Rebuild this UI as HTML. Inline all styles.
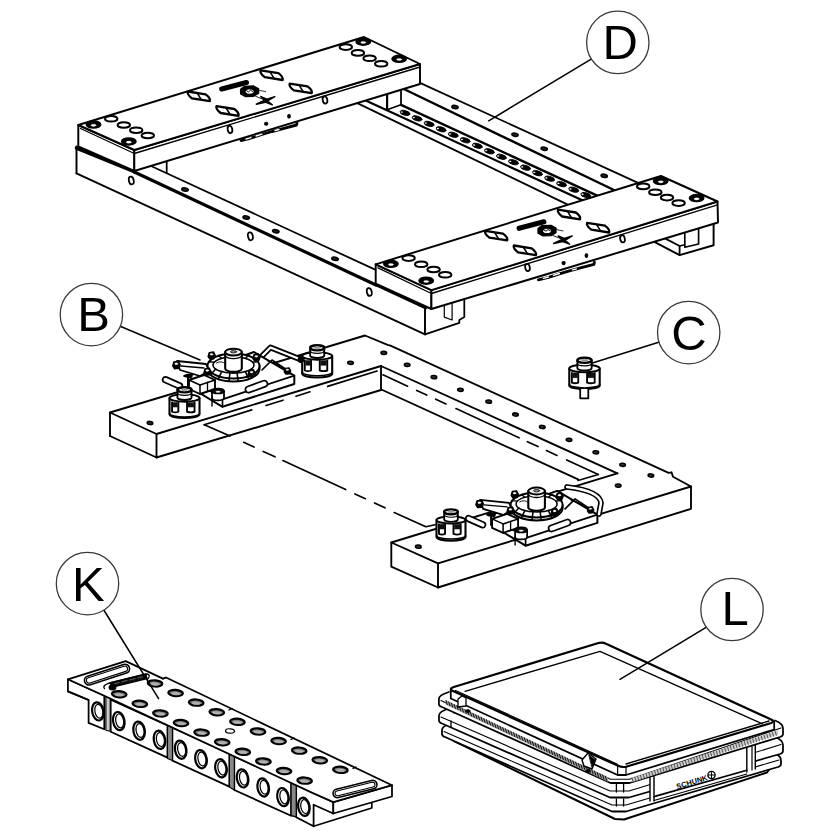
<!DOCTYPE html>
<html><head><meta charset="utf-8"><style>
html,body{margin:0;padding:0;background:#fff;}
svg{display:block;}
</style></head><body>
<svg width="840" height="840" viewBox="0 0 840 840" stroke="#000" stroke-linecap="round" stroke-linejoin="round" fill="none">
<rect width="840" height="840" fill="#fff" stroke="none"/>
<line x1="420.0" y1="82.9" x2="638.6" y2="183.1" stroke-width="1.76" />
<line x1="403.8" y1="89.0" x2="615.0" y2="190.5" stroke-width="2.42" />
<line x1="401.0" y1="104.8" x2="597.7" y2="195.9" stroke-width="2.42" />
<line x1="365.7" y1="100.5" x2="582.8" y2="200.4" stroke-width="2.2" />
<line x1="387.1" y1="109.8" x2="401.0" y2="104.8" stroke-width="1.65" />
<line x1="357.3" y1="103.1" x2="568.2" y2="204.9" stroke-width="1.76" />
<ellipse cx="405.0" cy="112.9" rx="5.0" ry="2.3" transform="rotate(14 405.0 112.9)" stroke-width="0.9" fill="#000" />
<ellipse cx="401.7" cy="112.1" rx="0.9" ry="0.7" transform="rotate(0 401.7 112.1)" stroke-width="0.2" fill="#fff" stroke="#fff"/>
<ellipse cx="417.1" cy="118.4" rx="5.0" ry="2.3" transform="rotate(14 417.1 118.4)" stroke-width="0.9" fill="#000" />
<ellipse cx="413.8" cy="117.6" rx="0.9" ry="0.7" transform="rotate(0 413.8 117.6)" stroke-width="0.2" fill="#fff" stroke="#fff"/>
<ellipse cx="429.1" cy="123.9" rx="5.0" ry="2.3" transform="rotate(14 429.1 123.9)" stroke-width="0.9" fill="#000" />
<ellipse cx="425.8" cy="123.1" rx="0.9" ry="0.7" transform="rotate(0 425.8 123.1)" stroke-width="0.2" fill="#fff" stroke="#fff"/>
<ellipse cx="441.1" cy="129.3" rx="5.0" ry="2.3" transform="rotate(14 441.1 129.3)" stroke-width="0.9" fill="#000" />
<ellipse cx="437.8" cy="128.5" rx="0.9" ry="0.7" transform="rotate(0 437.8 128.5)" stroke-width="0.2" fill="#fff" stroke="#fff"/>
<ellipse cx="453.2" cy="134.8" rx="5.0" ry="2.3" transform="rotate(14 453.2 134.8)" stroke-width="0.9" fill="#000" />
<ellipse cx="449.9" cy="134.0" rx="0.9" ry="0.7" transform="rotate(0 449.9 134.0)" stroke-width="0.2" fill="#fff" stroke="#fff"/>
<ellipse cx="465.2" cy="140.3" rx="5.0" ry="2.3" transform="rotate(14 465.2 140.3)" stroke-width="0.9" fill="#000" />
<ellipse cx="461.9" cy="139.5" rx="0.9" ry="0.7" transform="rotate(0 461.9 139.5)" stroke-width="0.2" fill="#fff" stroke="#fff"/>
<ellipse cx="477.3" cy="145.8" rx="5.0" ry="2.3" transform="rotate(14 477.3 145.8)" stroke-width="0.9" fill="#000" />
<ellipse cx="474.0" cy="145.0" rx="0.9" ry="0.7" transform="rotate(0 474.0 145.0)" stroke-width="0.2" fill="#fff" stroke="#fff"/>
<ellipse cx="489.4" cy="151.3" rx="5.0" ry="2.3" transform="rotate(14 489.4 151.3)" stroke-width="0.9" fill="#000" />
<ellipse cx="486.1" cy="150.5" rx="0.9" ry="0.7" transform="rotate(0 486.1 150.5)" stroke-width="0.2" fill="#fff" stroke="#fff"/>
<ellipse cx="501.4" cy="156.8" rx="5.0" ry="2.3" transform="rotate(14 501.4 156.8)" stroke-width="0.9" fill="#000" />
<ellipse cx="498.1" cy="156.0" rx="0.9" ry="0.7" transform="rotate(0 498.1 156.0)" stroke-width="0.2" fill="#fff" stroke="#fff"/>
<ellipse cx="513.5" cy="162.2" rx="5.0" ry="2.3" transform="rotate(14 513.5 162.2)" stroke-width="0.9" fill="#000" />
<ellipse cx="510.2" cy="161.4" rx="0.9" ry="0.7" transform="rotate(0 510.2 161.4)" stroke-width="0.2" fill="#fff" stroke="#fff"/>
<ellipse cx="525.5" cy="167.7" rx="5.0" ry="2.3" transform="rotate(14 525.5 167.7)" stroke-width="0.9" fill="#000" />
<ellipse cx="522.2" cy="166.9" rx="0.9" ry="0.7" transform="rotate(0 522.2 166.9)" stroke-width="0.2" fill="#fff" stroke="#fff"/>
<ellipse cx="537.5" cy="173.2" rx="5.0" ry="2.3" transform="rotate(14 537.5 173.2)" stroke-width="0.9" fill="#000" />
<ellipse cx="534.2" cy="172.4" rx="0.9" ry="0.7" transform="rotate(0 534.2 172.4)" stroke-width="0.2" fill="#fff" stroke="#fff"/>
<ellipse cx="549.6" cy="178.7" rx="5.0" ry="2.3" transform="rotate(14 549.6 178.7)" stroke-width="0.9" fill="#000" />
<ellipse cx="546.3" cy="177.9" rx="0.9" ry="0.7" transform="rotate(0 546.3 177.9)" stroke-width="0.2" fill="#fff" stroke="#fff"/>
<ellipse cx="561.6" cy="184.2" rx="5.0" ry="2.3" transform="rotate(14 561.6 184.2)" stroke-width="0.9" fill="#000" />
<ellipse cx="558.4" cy="183.4" rx="0.9" ry="0.7" transform="rotate(0 558.4 183.4)" stroke-width="0.2" fill="#fff" stroke="#fff"/>
<ellipse cx="573.7" cy="189.7" rx="5.0" ry="2.3" transform="rotate(14 573.7 189.7)" stroke-width="0.9" fill="#000" />
<ellipse cx="570.4" cy="188.9" rx="0.9" ry="0.7" transform="rotate(0 570.4 188.9)" stroke-width="0.2" fill="#fff" stroke="#fff"/>
<ellipse cx="585.8" cy="195.1" rx="5.0" ry="2.3" transform="rotate(14 585.8 195.1)" stroke-width="0.9" fill="#000" />
<ellipse cx="582.5" cy="194.3" rx="0.9" ry="0.7" transform="rotate(0 582.5 194.3)" stroke-width="0.2" fill="#fff" stroke="#fff"/>
<ellipse cx="455.0" cy="107.0" rx="3.2" ry="1.6" transform="rotate(12 455.0 107.0)" stroke-width="1.54" fill="#222" />
<ellipse cx="515.0" cy="134.7" rx="3.2" ry="1.6" transform="rotate(12 515.0 134.7)" stroke-width="1.54" fill="#222" />
<ellipse cx="544.2" cy="148.7" rx="3.2" ry="1.6" transform="rotate(12 544.2 148.7)" stroke-width="1.54" fill="#222" />
<ellipse cx="604.2" cy="175.8" rx="3.2" ry="1.6" transform="rotate(12 604.2 175.8)" stroke-width="1.54" fill="#222" />
<line x1="387.1" y1="93.3" x2="387.1" y2="109.8" stroke-width="2.2" />
<line x1="401.0" y1="90.5" x2="401.0" y2="104.8" stroke-width="1.76" />
<line x1="134.3" y1="172.0" x2="376.0" y2="285.0" stroke-width="3.19" />
<line x1="76.5" y1="173.3" x2="425.0" y2="334.3" stroke-width="1.93" />
<line x1="151.0" y1="166.0" x2="375.7" y2="269.9" stroke-width="1.76" />
<line x1="166.7" y1="161.5" x2="166.7" y2="173.0" stroke-width="1.76" />
<line x1="76.5" y1="146.5" x2="76.5" y2="173.3" stroke-width="1.93" />
<line x1="76.5" y1="148.0" x2="134.3" y2="171.5" stroke-width="3.52" />
<line x1="375.7" y1="284.8" x2="425.7" y2="308.0" stroke-width="2.86" />
<line x1="425.0" y1="308.6" x2="425.0" y2="334.3" stroke-width="1.93" />
<polyline points="425.0,334.3 459.3,322.9 459.3,320.0 464.3,317.1 464.3,300.7" stroke-width="1.76" fill="none" />
<polyline points="444.3,301.0 444.3,317.1 452.1,320.0 452.1,303.0" stroke-width="1.21" fill="none" />
<ellipse cx="131.3" cy="180.5" rx="2.4" ry="4.0" transform="rotate(-12 131.3 180.5)" stroke-width="1.76" fill="none" />
<ellipse cx="250.4" cy="236.3" rx="2.4" ry="4.0" transform="rotate(-12 250.4 236.3)" stroke-width="1.76" fill="none" />
<ellipse cx="369.3" cy="292.0" rx="2.4" ry="4.0" transform="rotate(-12 369.3 292.0)" stroke-width="1.76" fill="none" />
<ellipse cx="185.0" cy="189.5" rx="3.3" ry="1.6" transform="rotate(12 185.0 189.5)" stroke-width="1.54" fill="#222" />
<ellipse cx="246.2" cy="217.5" rx="3.3" ry="1.6" transform="rotate(12 246.2 217.5)" stroke-width="1.54" fill="#222" />
<ellipse cx="275.8" cy="231.2" rx="3.3" ry="1.6" transform="rotate(12 275.8 231.2)" stroke-width="1.54" fill="#222" />
<ellipse cx="335.0" cy="258.8" rx="3.3" ry="1.6" transform="rotate(12 335.0 258.8)" stroke-width="1.54" fill="#222" />
<path d="M241,140.5 L251,138 L262,134.5 L272,131.5 L284,128.3 L296.5,125 L297,123" stroke-width="2.86" fill="none" />
<path d="M246,139 l5,-1.3 M256,136 l6,-1.8 M275,130.5 l4,-1" stroke-width="1.32" fill="none" stroke="#fff"/>
<path d="M538.4,279.8 L548.4,277.3 L559.4,273.8 L569.4,270.8 L581.4,267.6 L593.9,264.3 L594.4,262.3" stroke-width="2.86" fill="none" />
<path d="M543.4,278.3 l5,-1.3 M553.4,275.3 l6,-1.8 M572.4,269.8 l4,-1" stroke-width="1.32" fill="none" stroke="#fff"/>
<polygon points="78.3,125.0 134.3,150.0 134.3,171.0 78.3,146.5" stroke-width="1.93" fill="#fff" />
<polygon points="134.3,150.0 420.0,64.0 420.0,84.0 134.3,171.0" stroke-width="1.93" fill="#fff" />
<polygon points="78.3,125.0 364.0,37.0 420.0,64.0 134.3,150.0" stroke-width="1.93" fill="#fff" />
<line x1="80.5" y1="128.5" x2="134.3" y2="153.5" stroke-width="1.32" />
<line x1="134.3" y1="153.5" x2="420.0" y2="67.0" stroke-width="1.32" />
<ellipse cx="230.0" cy="129.5" rx="2.3" ry="3.6" transform="rotate(-12 230.0 129.5)" stroke-width="1.76" fill="none" />
<ellipse cx="325.0" cy="100.0" rx="2.3" ry="3.6" transform="rotate(-12 325.0 100.0)" stroke-width="1.76" fill="none" />
<ellipse cx="266.2" cy="123.8" rx="1.6" ry="1.5" transform="rotate(0 266.2 123.8)" stroke-width="1.1" fill="#000" />
<ellipse cx="289.0" cy="116.3" rx="1.3" ry="1.8" transform="rotate(0 289.0 116.3)" stroke-width="1.1" fill="#000" />
<polyline points="653.4,241.4 679.6,255.1 713.6,245.3 713.6,224.3" stroke-width="1.93" fill="none" />
<polyline points="653.4,241.4 664.5,238.1 679.6,246.0 679.6,255.1" stroke-width="1.76" fill="none" />
<polyline points="679.6,246.0 684.8,244.7" stroke-width="1.54" fill="none" />
<polyline points="684.8,232.9 684.8,247.3 698.6,244.0 698.6,229.6" stroke-width="1.65" fill="none" />
<polygon points="375.7,264.3 431.4,290.2 431.4,309.0 375.7,283.6" stroke-width="1.93" fill="#fff" />
<polygon points="431.4,290.2 717.5,201.5 718.0,222.5 431.4,309.0" stroke-width="1.93" fill="#fff" />
<polygon points="375.7,264.3 661.0,176.0 717.5,201.5 431.4,290.2" stroke-width="1.93" fill="#fff" />
<line x1="378.0" y1="267.8" x2="431.4" y2="293.5" stroke-width="1.32" />
<line x1="431.4" y1="293.5" x2="717.5" y2="204.8" stroke-width="1.32" />
<ellipse cx="527.5" cy="267.5" rx="2.3" ry="3.6" transform="rotate(-12 527.5 267.5)" stroke-width="1.76" fill="none" />
<ellipse cx="622.5" cy="238.8" rx="2.3" ry="3.6" transform="rotate(-12 622.5 238.8)" stroke-width="1.76" fill="none" />
<ellipse cx="563.6" cy="263.1" rx="1.6" ry="1.5" transform="rotate(0 563.6 263.1)" stroke-width="1.1" fill="#000" />
<ellipse cx="586.4" cy="255.6" rx="1.3" ry="1.8" transform="rotate(0 586.4 255.6)" stroke-width="1.1" fill="#000" />
<ellipse cx="93.5" cy="124.5" rx="7.2" ry="3.5" transform="rotate(0 93.5 124.5)" stroke-width="1.54" fill="#000" />
<ellipse cx="93.5" cy="125.3" rx="2.6" ry="1.1" transform="rotate(0 93.5 125.3)" stroke-width="0.3" fill="#fff" stroke="#fff"/>
<ellipse cx="128.8" cy="141.4" rx="7.2" ry="3.5" transform="rotate(0 128.8 141.4)" stroke-width="1.54" fill="#000" />
<ellipse cx="128.8" cy="142.2" rx="2.6" ry="1.1" transform="rotate(0 128.8 142.2)" stroke-width="0.3" fill="#fff" stroke="#fff"/>
<ellipse cx="363.3" cy="41.7" rx="7.2" ry="3.5" transform="rotate(0 363.3 41.7)" stroke-width="1.54" fill="#000" />
<ellipse cx="363.3" cy="42.5" rx="2.6" ry="1.1" transform="rotate(0 363.3 42.5)" stroke-width="0.3" fill="#fff" stroke="#fff"/>
<ellipse cx="399.2" cy="58.8" rx="7.2" ry="3.5" transform="rotate(0 399.2 58.8)" stroke-width="1.54" fill="#000" />
<ellipse cx="399.2" cy="59.5" rx="2.6" ry="1.1" transform="rotate(0 399.2 59.5)" stroke-width="0.3" fill="#fff" stroke="#fff"/>
<ellipse cx="111.2" cy="118.8" rx="6.2" ry="2.8" transform="rotate(0 111.2 118.8)" stroke-width="1.98" fill="none" />
<ellipse cx="123.8" cy="125.0" rx="6.2" ry="2.8" transform="rotate(0 123.8 125.0)" stroke-width="1.98" fill="none" />
<ellipse cx="136.2" cy="130.2" rx="6.2" ry="2.8" transform="rotate(0 136.2 130.2)" stroke-width="1.98" fill="none" />
<ellipse cx="147.8" cy="135.5" rx="6.2" ry="2.8" transform="rotate(0 147.8 135.5)" stroke-width="1.98" fill="none" />
<ellipse cx="345.8" cy="47.1" rx="6.2" ry="2.8" transform="rotate(0 345.8 47.1)" stroke-width="1.98" fill="none" />
<ellipse cx="357.9" cy="52.9" rx="6.2" ry="2.8" transform="rotate(0 357.9 52.9)" stroke-width="1.98" fill="none" />
<ellipse cx="369.6" cy="58.3" rx="6.2" ry="2.8" transform="rotate(0 369.6 58.3)" stroke-width="1.98" fill="none" />
<ellipse cx="381.2" cy="63.8" rx="6.2" ry="2.8" transform="rotate(0 381.2 63.8)" stroke-width="1.98" fill="none" />
<path d="M187.8,91.5 L205.6,94.3 Q210.8,98.2 209.8,101.1 L192.0,98.3 Q186.8,94.4 187.8,91.5 Z" stroke-width="2.31" fill="#fff" />
<line x1="197.5" y1="93.5" x2="201.1" y2="99.3" stroke-width="1.54" />
<path d="M216.5,106.2 L234.3,109.0 Q239.5,112.9 238.5,115.8 L220.7,113.0 Q215.5,109.1 216.5,106.2 Z" stroke-width="2.31" fill="#fff" />
<line x1="226.2" y1="108.2" x2="229.8" y2="114.0" stroke-width="1.54" />
<path d="M260.6,70.4 L278.4,73.2 Q283.6,77.1 282.6,80.0 L264.8,77.2 Q259.6,73.3 260.6,70.4 Z" stroke-width="2.31" fill="#fff" />
<line x1="270.3" y1="72.4" x2="273.9" y2="78.2" stroke-width="1.54" />
<path d="M289.7,83.6 L307.5,86.4 Q312.7,90.3 311.7,93.2 L293.9,90.4 Q288.7,86.5 289.7,83.6 Z" stroke-width="2.31" fill="#fff" />
<line x1="299.4" y1="85.6" x2="303.0" y2="91.4" stroke-width="1.54" />
<line x1="221.7" y1="89.0" x2="246.5" y2="82.5" stroke-width="5.06" />
<path d="M240.6,89.3 L244.6,86.3 L253.6,86.0 L258.6,88.8 L258.6,93.3 L253.6,96.3 L245.6,96.6 L240.6,93.8 Z" stroke-width="1.32" fill="#000" />
<ellipse cx="249.6" cy="91.6" rx="3.8" ry="2.0" transform="rotate(0 249.6 91.6)" stroke-width="0.3" fill="#fff" stroke="#fff"/>
<path d="M246.6,90.8 l2,1 l2,-1.5 l2,1.2" stroke-width="0.9" fill="none" />
<line x1="259.1" y1="90.3" x2="265.6" y2="91.6" stroke-width="0.8" />
<path d="M256.3,104.2 L264.6,100.2 L260.8,96.60000000000001 L267.0,99.2 L274.8,96.60000000000001 L267.6,101.0 L272.3,104.9 L265.3,102.2 Z" stroke-width="1.43" fill="#000" />
<line x1="255.6" y1="96.3" x2="264.8" y2="99.9" stroke-width="0.9" />
<ellipse cx="390.9" cy="263.8" rx="7.2" ry="3.5" transform="rotate(0 390.9 263.8)" stroke-width="1.54" fill="#000" />
<ellipse cx="390.9" cy="264.6" rx="2.6" ry="1.1" transform="rotate(0 390.9 264.6)" stroke-width="0.3" fill="#fff" stroke="#fff"/>
<ellipse cx="426.2" cy="280.7" rx="7.2" ry="3.5" transform="rotate(0 426.2 280.7)" stroke-width="1.54" fill="#000" />
<ellipse cx="426.2" cy="281.5" rx="2.6" ry="1.1" transform="rotate(0 426.2 281.5)" stroke-width="0.3" fill="#fff" stroke="#fff"/>
<ellipse cx="660.7" cy="181.0" rx="7.2" ry="3.5" transform="rotate(0 660.7 181.0)" stroke-width="1.54" fill="#000" />
<ellipse cx="660.7" cy="181.8" rx="2.6" ry="1.1" transform="rotate(0 660.7 181.8)" stroke-width="0.3" fill="#fff" stroke="#fff"/>
<ellipse cx="696.6" cy="198.1" rx="7.2" ry="3.5" transform="rotate(0 696.6 198.1)" stroke-width="1.54" fill="#000" />
<ellipse cx="696.6" cy="198.9" rx="2.6" ry="1.1" transform="rotate(0 696.6 198.9)" stroke-width="0.3" fill="#fff" stroke="#fff"/>
<ellipse cx="408.6" cy="258.1" rx="6.2" ry="2.8" transform="rotate(0 408.6 258.1)" stroke-width="1.98" fill="none" />
<ellipse cx="421.2" cy="264.3" rx="6.2" ry="2.8" transform="rotate(0 421.2 264.3)" stroke-width="1.98" fill="none" />
<ellipse cx="433.6" cy="269.5" rx="6.2" ry="2.8" transform="rotate(0 433.6 269.5)" stroke-width="1.98" fill="none" />
<ellipse cx="445.2" cy="274.8" rx="6.2" ry="2.8" transform="rotate(0 445.2 274.8)" stroke-width="1.98" fill="none" />
<ellipse cx="643.2" cy="186.4" rx="6.2" ry="2.8" transform="rotate(0 643.2 186.4)" stroke-width="1.98" fill="none" />
<ellipse cx="655.3" cy="192.2" rx="6.2" ry="2.8" transform="rotate(0 655.3 192.2)" stroke-width="1.98" fill="none" />
<ellipse cx="667.0" cy="197.6" rx="6.2" ry="2.8" transform="rotate(0 667.0 197.6)" stroke-width="1.98" fill="none" />
<ellipse cx="678.6" cy="203.1" rx="6.2" ry="2.8" transform="rotate(0 678.6 203.1)" stroke-width="1.98" fill="none" />
<path d="M485.2,230.8 L503.0,233.6 Q508.2,237.5 507.2,240.4 L489.4,237.6 Q484.2,233.7 485.2,230.8 Z" stroke-width="2.31" fill="#fff" />
<line x1="494.9" y1="232.8" x2="498.5" y2="238.6" stroke-width="1.54" />
<path d="M513.9,245.5 L531.7,248.3 Q536.9,252.2 535.9,255.1 L518.1,252.3 Q512.9,248.4 513.9,245.5 Z" stroke-width="2.31" fill="#fff" />
<line x1="523.6" y1="247.5" x2="527.2" y2="253.3" stroke-width="1.54" />
<path d="M558.0,209.7 L575.8,212.5 Q581.0,216.4 580.0,219.3 L562.2,216.5 Q557.0,212.6 558.0,209.7 Z" stroke-width="2.31" fill="#fff" />
<line x1="567.7" y1="211.7" x2="571.3" y2="217.5" stroke-width="1.54" />
<path d="M587.1,222.9 L604.9,225.7 Q610.1,229.6 609.1,232.5 L591.3,229.7 Q586.1,225.8 587.1,222.9 Z" stroke-width="2.31" fill="#fff" />
<line x1="596.8" y1="224.9" x2="600.4" y2="230.7" stroke-width="1.54" />
<line x1="519.1" y1="228.3" x2="543.9" y2="221.8" stroke-width="5.06" />
<path d="M538.0,228.60000000000002 L542.0,225.60000000000002 L551.0,225.3 L556.0,228.10000000000002 L556.0,232.60000000000002 L551.0,235.60000000000002 L543.0,235.90000000000003 L538.0,233.10000000000002 Z" stroke-width="1.32" fill="#000" />
<ellipse cx="547.0" cy="230.9" rx="3.8" ry="2.0" transform="rotate(0 547.0 230.9)" stroke-width="0.3" fill="#fff" stroke="#fff"/>
<path d="M544.0,230.10000000000002 l2,1 l2,-1.5 l2,1.2" stroke-width="0.9" fill="none" />
<line x1="556.5" y1="229.6" x2="563.0" y2="230.9" stroke-width="0.8" />
<path d="M553.7,243.50000000000003 L562.0,239.50000000000003 L558.2,235.9 L564.4000000000001,238.50000000000003 L572.2,235.9 L565.0,240.3 L569.7,244.20000000000002 L562.7,241.50000000000003 Z" stroke-width="1.43" fill="#000" />
<line x1="553.0" y1="235.6" x2="562.2" y2="239.2" stroke-width="0.9" />
<polyline points="110.0,436.0 110.0,412.5 365.0,335.5 387.6,344.9 390.5,345.6 668.6,472.8 671.5,472.3 673.0,476.8 691.0,486.5" stroke-width="1.87" fill="none" />
<polyline points="110.0,412.5 156.5,434.0 156.5,457.5 110.0,436.0" stroke-width="1.87" fill="none" />
<line x1="156.5" y1="434.0" x2="381.0" y2="366.0" stroke-width="1.87" />
<line x1="156.5" y1="457.5" x2="381.0" y2="390.0" stroke-width="1.87" />
<line x1="381.0" y1="366.0" x2="381.0" y2="390.0" stroke-width="1.87" />
<line x1="381.0" y1="366.0" x2="617.4" y2="473.3" stroke-width="1.87" />
<line x1="381.3" y1="389.5" x2="578.1" y2="479.3" stroke-width="1.87" />
<polyline points="691.0,486.5 691.0,508.8 438.0,587.5 438.0,563.3 691.0,486.5" stroke-width="1.87" fill="none" />
<polyline points="438.0,563.3 391.3,542.5 391.3,566.7 438.0,587.5" stroke-width="1.87" fill="none" />
<line x1="391.3" y1="542.5" x2="617.4" y2="473.3" stroke-width="1.87" />
<line x1="204.2" y1="424.7" x2="230.0" y2="436.0" stroke-width="1.65" />
<line x1="204.2" y1="424.7" x2="251.7" y2="409.9" stroke-width="1.65" />
<line x1="266.0" y1="405.5" x2="283.0" y2="400.2" stroke-width="1.65" />
<line x1="296.0" y1="396.2" x2="310.0" y2="391.8" stroke-width="1.65" />
<line x1="327.6" y1="386.4" x2="377.1" y2="371.0" stroke-width="1.65" />
<line x1="382.9" y1="374.8" x2="407.6" y2="386.2" stroke-width="1.65" />
<line x1="416.7" y1="390.4" x2="426.7" y2="395.1" stroke-width="1.65" />
<line x1="435.7" y1="399.2" x2="446.0" y2="404.0" stroke-width="1.65" />
<line x1="456.0" y1="408.6" x2="519.0" y2="437.8" stroke-width="1.65" />
<line x1="527.4" y1="441.7" x2="538.0" y2="446.6" stroke-width="1.65" />
<line x1="546.4" y1="450.5" x2="557.0" y2="455.4" stroke-width="1.65" />
<line x1="566.7" y1="459.9" x2="598.3" y2="474.5" stroke-width="1.65" />
<line x1="598.3" y1="474.5" x2="578.0" y2="480.5" stroke-width="1.65" />
<line x1="243.6" y1="442.3" x2="254.0" y2="447.1" stroke-width="1.65" />
<line x1="263.2" y1="451.4" x2="275.0" y2="456.8" stroke-width="1.65" />
<line x1="282.9" y1="460.5" x2="345.7" y2="489.6" stroke-width="1.65" />
<line x1="354.9" y1="493.9" x2="365.4" y2="498.7" stroke-width="1.65" />
<line x1="374.5" y1="502.9" x2="385.0" y2="507.8" stroke-width="1.65" />
<polyline points="394.2,512.5 425.8,526.7 435.0,524.7" stroke-width="1.65" fill="none" />
<ellipse cx="150.0" cy="423.0" rx="2.8" ry="1.6" transform="rotate(3 150.0 423.0)" stroke-width="1.54" fill="#333" />
<ellipse cx="418.3" cy="546.7" rx="2.8" ry="1.6" transform="rotate(3 418.3 546.7)" stroke-width="1.54" fill="#333" />
<ellipse cx="460.4" cy="389.8" rx="2.8" ry="1.6" transform="rotate(3 460.4 389.8)" stroke-width="1.54" fill="#333" />
<ellipse cx="488.7" cy="401.7" rx="2.8" ry="1.6" transform="rotate(3 488.7 401.7)" stroke-width="1.54" fill="#333" />
<ellipse cx="515.5" cy="414.5" rx="2.8" ry="1.6" transform="rotate(3 515.5 414.5)" stroke-width="1.54" fill="#333" />
<ellipse cx="542.3" cy="427.0" rx="2.8" ry="1.6" transform="rotate(3 542.3 427.0)" stroke-width="1.54" fill="#333" />
<ellipse cx="569.0" cy="439.8" rx="2.8" ry="1.6" transform="rotate(3 569.0 439.8)" stroke-width="1.54" fill="#333" />
<ellipse cx="595.8" cy="452.3" rx="2.8" ry="1.6" transform="rotate(3 595.8 452.3)" stroke-width="1.54" fill="#333" />
<ellipse cx="622.6" cy="464.8" rx="2.8" ry="1.6" transform="rotate(3 622.6 464.8)" stroke-width="1.54" fill="#333" />
<ellipse cx="650.9" cy="475.5" rx="2.8" ry="1.6" transform="rotate(3 650.9 475.5)" stroke-width="1.54" fill="#333" />
<ellipse cx="618.2" cy="485.6" rx="2.8" ry="1.6" transform="rotate(3 618.2 485.6)" stroke-width="1.54" fill="#333" />
<ellipse cx="350.5" cy="362.8" rx="2.8" ry="1.6" transform="rotate(3 350.5 362.8)" stroke-width="1.54" fill="#333" />
<ellipse cx="383.8" cy="352.9" rx="2.8" ry="1.6" transform="rotate(3 383.8 352.9)" stroke-width="1.54" fill="#333" />
<ellipse cx="407.2" cy="364.9" rx="2.8" ry="1.6" transform="rotate(3 407.2 364.9)" stroke-width="1.54" fill="#333" />
<ellipse cx="433.9" cy="377.2" rx="2.8" ry="1.6" transform="rotate(3 433.9 377.2)" stroke-width="1.54" fill="#333" />
<path d="M262,356 L270.5,347.5 L302,360" stroke-width="5.72" fill="none" />
<path d="M262,356 L270.5,347.5 L302,360" stroke-width="2.42" fill="none" stroke="#fff"/>
<path d="M302.2,356 L302.2,373.75 A15,3.75 0 0 0 332.2,373.75 L332.2,356 Z" stroke-width="2.09" fill="#fff" />
<ellipse cx="317.2" cy="356.0" rx="15" ry="3.75" transform="rotate(0 317.2 356.0)" stroke-width="1.98" fill="#fff" />
<path d="M304.75,360.35 L304.75,370.5 Q307.9,371.7 311.04999999999995,370.5 L311.04999999999995,360.35" stroke-width="1.87" fill="#fff" />
<polygon points="305.6,360.4 310.2,360.4 310.2,365.4 305.6,365.4" stroke-width="0.3" fill="#111" />
<path d="M319.75,360.35 L319.75,370.5 Q323.5,371.7 327.25,370.5 L327.25,360.35" stroke-width="1.87" fill="#fff" />
<polygon points="320.6,360.4 326.4,360.4 326.4,365.4 320.6,365.4" stroke-width="0.3" fill="#111" />
<path d="M302.2,372.0 A15,3.75 0 0 0 332.2,372.0" stroke-width="1.54" fill="none" />
<path d="M310.15,355.5 L310.15,347.8 L324.25,347.8 L324.25,355.5 A7.05,2.4675 0 0 1 310.15,355.5 Z" stroke-width="1.87" fill="#fff" />
<ellipse cx="317.2" cy="347.8" rx="7.05" ry="2.538" transform="rotate(0 317.2 347.8)" stroke-width="2.42" fill="#fff" />
<ellipse cx="317.2" cy="347.8" rx="3.1725" ry="1.128" transform="rotate(0 317.2 347.8)" stroke-width="0.6" fill="#999" stroke="#999"/>
<path d="M310.15,350.8 A7.05,2.538 0 0 0 324.25,350.8" stroke-width="1.21" fill="none" />
<ellipse cx="301.0" cy="359.6" rx="2.8" ry="2.8" transform="rotate(0 301.0 359.6)" stroke-width="1.1" fill="#000" />
<polygon points="188.0,376.0 254.0,352.0 294.3,375.7 294.3,384.0 222.5,406.8 188.0,386.0" stroke-width="1.98" fill="#fff" />
<polyline points="188.0,376.0 222.5,399.3 294.3,375.7" stroke-width="1.76" fill="none" />
<line x1="222.5" y1="399.3" x2="222.5" y2="406.8" stroke-width="1.65" />
<polygon points="189.0,380.0 204.0,375.0 215.0,380.0 215.0,389.0 200.0,394.0 189.0,389.0" stroke-width="1.87" fill="#fff" />
<polyline points="189.0,380.0 200.0,385.0 215.0,380.0" stroke-width="1.54" fill="none" />
<line x1="200.0" y1="385.0" x2="200.0" y2="394.0" stroke-width="1.54" />
<line x1="207.5" y1="382.5" x2="207.5" y2="391.5" stroke-width="1.32" />
<path d="M212,391 L212,398 A6,2.4 0 0 0 224,398 L224,391 Z" stroke-width="1.76" fill="#fff" />
<ellipse cx="218.0" cy="391.0" rx="6" ry="2.6" transform="rotate(0 218.0 391.0)" stroke-width="1.54" fill="#111" />
<ellipse cx="218.0" cy="391.8" rx="2.2" ry="0.8" transform="rotate(0 218.0 391.8)" stroke-width="0.3" fill="#fff" stroke="#fff"/>
<line x1="212.0" y1="398.0" x2="212.0" y2="406.0" stroke-width="1.43" />
<path d="M207.5,366 L207.5,369 A26,12.5 0 0 0 259.5,369 L259.5,366 Z" stroke-width="1.98" fill="#fff" />
<ellipse cx="233.5" cy="366.0" rx="26" ry="12.5" transform="rotate(0 233.5 366.0)" stroke-width="1.98" fill="#fff" />
<ellipse cx="233.5" cy="365.0" rx="20.5" ry="8.2" transform="rotate(0 233.5 365.0)" stroke-width="1.54" fill="#fff" />
<line x1="215.7" y1="369.1" x2="211.0" y2="374.2" stroke-width="1.54" />
<line x1="221.7" y1="371.7" x2="218.6" y2="378.2" stroke-width="1.54" />
<line x1="229.9" y1="373.1" x2="229.0" y2="380.3" stroke-width="1.54" />
<line x1="237.1" y1="373.1" x2="238.0" y2="380.3" stroke-width="1.54" />
<line x1="245.3" y1="371.7" x2="248.4" y2="378.2" stroke-width="1.54" />
<line x1="251.3" y1="369.1" x2="256.0" y2="374.2" stroke-width="1.54" />
<line x1="214.2" y1="362.2" x2="209.1" y2="361.7" stroke-width="1.43" />
<line x1="221.7" y1="358.3" x2="218.6" y2="355.8" stroke-width="1.43" />
<line x1="245.3" y1="358.3" x2="248.4" y2="355.8" stroke-width="1.43" />
<line x1="252.8" y1="362.2" x2="257.9" y2="361.7" stroke-width="1.43" />
<path d="M216.5,363 q5,-3 9,1" stroke-width="0.9" fill="none" />
<path d="M225.2,352.1 L225.2,368.5 A8.3,3.4 0 0 0 241.8,368.5 L241.8,352.1 Z" stroke-width="2.09" fill="#fff" />
<ellipse cx="233.5" cy="352.1" rx="8.3" ry="3.4" transform="rotate(0 233.5 352.1)" stroke-width="1.98" fill="#fff" />
<path d="M225.2,355.2 A8.3,3.4 0 0 0 241.8,355.2" stroke-width="1.32" fill="none" />
<ellipse cx="233.5" cy="351.8" rx="3.2" ry="1.2" transform="rotate(0 233.5 351.8)" stroke-width="0.8" fill="#999" />
<rect x="245" y="383.5" width="23" height="6.2" rx="3.1" transform="rotate(-20 256.5 386.6)" stroke-width="1.7" fill="#fff"/>
<polygon points="177.0,361.0 206.0,364.0 209.0,371.0 200.0,376.0 180.0,370.0" stroke-width="1.76" fill="#fff" />
<polyline points="181.0,366.0 204.0,368.0" stroke-width="1.32" fill="none" />
<rect x="162" y="380" width="21" height="5.6" rx="2.8" transform="rotate(24 172.5 382.8)" stroke-width="1.7" fill="#fff"/>
<polyline points="262.0,370.0 272.0,360.0 284.0,368.0 290.0,372.0" stroke-width="1.65" fill="none" />
<polyline points="268.0,361.0 280.0,366.0" stroke-width="1.32" fill="none" />
<path d="M208.1,356.5 L209.17999999999998,352.62 L213.5,351.9 L215.29999999999998,355.5 L213.85999999999999,358.74 L209.89999999999998,359.1 Z" stroke-width="1.32" fill="#000" />
<ellipse cx="211.5" cy="354.3" rx="1.512" ry="0.9" transform="rotate(0 211.5 354.3)" stroke-width="0.3" fill="#fff" stroke="#fff"/>
<path d="M252.9,358.5 L253.98,354.62 L258.3,353.9 L260.1,357.5 L258.66,360.74 L254.7,361.1 Z" stroke-width="1.32" fill="#000" />
<ellipse cx="256.3" cy="356.3" rx="1.512" ry="0.9" transform="rotate(0 256.3 356.3)" stroke-width="0.3" fill="#fff" stroke="#fff"/>
<path d="M203.9,372.7 L204.98,368.82 L209.3,368.09999999999997 L211.1,371.7 L209.66,374.94 L205.7,375.3 Z" stroke-width="1.32" fill="#000" />
<ellipse cx="207.3" cy="370.5" rx="1.512" ry="0.9" transform="rotate(0 207.3 370.5)" stroke-width="0.3" fill="#fff" stroke="#fff"/>
<path d="M248.1,374.3 L249.17999999999998,370.42 L253.5,369.7 L255.29999999999998,373.3 L253.85999999999999,376.54 L249.89999999999998,376.90000000000003 Z" stroke-width="1.32" fill="#000" />
<ellipse cx="251.5" cy="372.1" rx="1.512" ry="0.9" transform="rotate(0 251.5 372.1)" stroke-width="0.3" fill="#fff" stroke="#fff"/>
<path d="M284.3,372 L285.26,368.44 L289.1,367.8 L290.7,371 L289.42,373.88 L285.9,374.2 Z" stroke-width="1.32" fill="#000" />
<ellipse cx="287.3" cy="369.8" rx="1.344" ry="0.8" transform="rotate(0 287.3 369.8)" stroke-width="0.3" fill="#fff" stroke="#fff"/>
<path d="M172.7,366 L173.84,361.96 L178.4,361.2 L180.3,365 L178.78,368.42 L174.6,368.8 Z" stroke-width="1.32" fill="#000" />
<ellipse cx="176.3" cy="363.8" rx="1.5959999999999999" ry="0.95" transform="rotate(0 176.3 363.8)" stroke-width="0.3" fill="#fff" stroke="#fff"/>
<path d="M184,376 q4,-3 8,0 q-4,1.6 -8,0 Z" stroke-width="1.65" fill="#000" />
<path d="M169.5,398 L169.5,414.25 A15,3.75 0 0 0 199.5,414.25 L199.5,398 Z" stroke-width="2.09" fill="#fff" />
<ellipse cx="184.5" cy="398.0" rx="15" ry="3.75" transform="rotate(0 184.5 398.0)" stroke-width="1.98" fill="#fff" />
<path d="M172.04999999999998,402.35 L172.04999999999998,411.75 Q175.2,412.95 178.35,411.75 L178.35,402.35" stroke-width="1.87" fill="#fff" />
<polygon points="172.8,402.4 177.5,402.4 177.5,407.1 172.8,407.1" stroke-width="0.3" fill="#111" />
<path d="M187.05,402.35 L187.05,411.75 Q190.8,412.95 194.55,411.75 L194.55,402.35" stroke-width="1.87" fill="#fff" />
<polygon points="187.9,402.4 193.8,402.4 193.8,407.1 187.9,407.1" stroke-width="0.3" fill="#111" />
<path d="M169.5,413.25 A15,3.75 0 0 0 199.5,413.25" stroke-width="1.54" fill="none" />
<path d="M177.45,397.5 L177.45,389.8 L191.55,389.8 L191.55,397.5 A7.05,2.4675 0 0 1 177.45,397.5 Z" stroke-width="1.87" fill="#fff" />
<ellipse cx="184.5" cy="389.8" rx="7.05" ry="2.538" transform="rotate(0 184.5 389.8)" stroke-width="2.42" fill="#fff" />
<ellipse cx="184.5" cy="389.8" rx="3.1725" ry="1.128" transform="rotate(0 184.5 389.8)" stroke-width="0.6" fill="#999" stroke="#999"/>
<path d="M177.45,392.8 A7.05,2.538 0 0 0 191.55,392.8" stroke-width="1.21" fill="none" />
<polygon points="491.1,514.9 557.1,490.9 597.4,514.6 597.4,522.9 525.6,545.7 491.1,524.9" stroke-width="1.98" fill="#fff" />
<polyline points="491.1,514.9 525.6,538.2 597.4,514.6" stroke-width="1.76" fill="none" />
<line x1="525.6" y1="538.2" x2="525.6" y2="545.7" stroke-width="1.65" />
<polygon points="492.1,518.9 507.1,513.9 518.1,518.9 518.1,527.9 503.1,532.9 492.1,527.9" stroke-width="1.87" fill="#fff" />
<polyline points="492.1,518.9 503.1,523.9 518.1,518.9" stroke-width="1.54" fill="none" />
<line x1="503.1" y1="523.9" x2="503.1" y2="532.9" stroke-width="1.54" />
<line x1="510.6" y1="521.4" x2="510.6" y2="530.4" stroke-width="1.32" />
<path d="M515.1,529.9 L515.1,536.9 A6,2.4 0 0 0 527.1,536.9 L527.1,529.9 Z" stroke-width="1.76" fill="#fff" />
<ellipse cx="521.1" cy="529.9" rx="6" ry="2.6" transform="rotate(0 521.1 529.9)" stroke-width="1.54" fill="#111" />
<ellipse cx="521.1" cy="530.7" rx="2.2" ry="0.8" transform="rotate(0 521.1 530.7)" stroke-width="0.3" fill="#fff" stroke="#fff"/>
<line x1="515.1" y1="536.9" x2="515.1" y2="544.9" stroke-width="1.43" />
<path d="M510.6,504.9 L510.6,507.9 A26,12.5 0 0 0 562.6,507.9 L562.6,504.9 Z" stroke-width="1.98" fill="#fff" />
<ellipse cx="536.6" cy="504.9" rx="26" ry="12.5" transform="rotate(0 536.6 504.9)" stroke-width="1.98" fill="#fff" />
<ellipse cx="536.6" cy="503.9" rx="20.5" ry="8.2" transform="rotate(0 536.6 503.9)" stroke-width="1.54" fill="#fff" />
<line x1="518.8" y1="508.0" x2="514.1" y2="513.1" stroke-width="1.54" />
<line x1="524.8" y1="510.6" x2="521.7" y2="517.1" stroke-width="1.54" />
<line x1="533.0" y1="512.0" x2="532.1" y2="519.2" stroke-width="1.54" />
<line x1="540.2" y1="512.0" x2="541.1" y2="519.2" stroke-width="1.54" />
<line x1="548.4" y1="510.6" x2="551.5" y2="517.1" stroke-width="1.54" />
<line x1="554.4" y1="508.0" x2="559.1" y2="513.1" stroke-width="1.54" />
<line x1="517.3" y1="501.1" x2="512.2" y2="500.6" stroke-width="1.43" />
<line x1="524.8" y1="497.2" x2="521.7" y2="494.7" stroke-width="1.43" />
<line x1="548.4" y1="497.2" x2="551.5" y2="494.7" stroke-width="1.43" />
<line x1="555.9" y1="501.1" x2="561.0" y2="500.6" stroke-width="1.43" />
<path d="M519.6,501.9 q5,-3 9,1" stroke-width="0.9" fill="none" />
<path d="M528.3000000000001,491.0 L528.3000000000001,507.4 A8.3,3.4 0 0 0 544.9,507.4 L544.9,491.0 Z" stroke-width="2.09" fill="#fff" />
<ellipse cx="536.6" cy="491.0" rx="8.3" ry="3.4" transform="rotate(0 536.6 491.0)" stroke-width="1.98" fill="#fff" />
<path d="M528.3000000000001,494.1 A8.3,3.4 0 0 0 544.9,494.1" stroke-width="1.32" fill="none" />
<ellipse cx="536.6" cy="490.7" rx="3.2" ry="1.2" transform="rotate(0 536.6 490.7)" stroke-width="0.8" fill="#999" />
<rect x="548.1" y="522.4" width="23" height="6.2" rx="3.1" transform="rotate(-20 559.6 525.5)" stroke-width="1.7" fill="#fff"/>
<polygon points="480.1,499.9 509.1,502.9 512.1,509.9 503.1,514.9 483.1,508.9" stroke-width="1.76" fill="#fff" />
<polyline points="484.1,504.9 507.1,506.9" stroke-width="1.32" fill="none" />
<rect x="465.1" y="518.9" width="21" height="5.6" rx="2.8" transform="rotate(24 475.6 521.7)" stroke-width="1.7" fill="#fff"/>
<polyline points="565.1,508.9 575.1,498.9 587.1,506.9 593.1,510.9" stroke-width="1.65" fill="none" />
<polyline points="571.1,499.9 583.1,504.9" stroke-width="1.32" fill="none" />
<path d="M511.19999999999993,495.4 L512.28,491.52 L516.5999999999999,490.79999999999995 L518.4,494.4 L516.9599999999999,497.64 L513.0,498.0 Z" stroke-width="1.32" fill="#000" />
<ellipse cx="514.6" cy="493.2" rx="1.512" ry="0.9" transform="rotate(0 514.6 493.2)" stroke-width="0.3" fill="#fff" stroke="#fff"/>
<path d="M556.0,497.4 L557.08,493.52 L561.4,492.79999999999995 L563.2,496.4 L561.76,499.64 L557.8000000000001,500.0 Z" stroke-width="1.32" fill="#000" />
<ellipse cx="559.4" cy="495.2" rx="1.512" ry="0.9" transform="rotate(0 559.4 495.2)" stroke-width="0.3" fill="#fff" stroke="#fff"/>
<path d="M507.0,511.6 L508.08000000000004,507.72 L512.4,507.0 L514.2,510.6 L512.76,513.84 L508.8,514.2 Z" stroke-width="1.32" fill="#000" />
<ellipse cx="510.4" cy="509.4" rx="1.512" ry="0.9" transform="rotate(0 510.4 509.4)" stroke-width="0.3" fill="#fff" stroke="#fff"/>
<path d="M551.1999999999999,513.2 L552.28,509.32000000000005 L556.5999999999999,508.6 L558.4,512.2 L556.9599999999999,515.44 L553.0,515.8000000000001 Z" stroke-width="1.32" fill="#000" />
<ellipse cx="554.6" cy="511.0" rx="1.512" ry="0.9" transform="rotate(0 554.6 511.0)" stroke-width="0.3" fill="#fff" stroke="#fff"/>
<path d="M587.4,510.9 L588.36,507.34 L592.2,506.7 L593.8000000000001,509.9 L592.52,512.78 L589.0,513.1 Z" stroke-width="1.32" fill="#000" />
<ellipse cx="590.4" cy="508.7" rx="1.344" ry="0.8" transform="rotate(0 590.4 508.7)" stroke-width="0.3" fill="#fff" stroke="#fff"/>
<path d="M475.8,504.9 L476.94,500.85999999999996 L481.5,500.09999999999997 L483.40000000000003,503.9 L481.88,507.32 L477.70000000000005,507.7 Z" stroke-width="1.32" fill="#000" />
<ellipse cx="479.4" cy="502.7" rx="1.5959999999999999" ry="0.95" transform="rotate(0 479.4 502.7)" stroke-width="0.3" fill="#fff" stroke="#fff"/>
<path d="M487.1,514.9 q4,-3 8,0 q-4,1.6 -8,0 Z" stroke-width="1.65" fill="#000" />
<path d="M567,487 Q600,491 601,503 L599,514" stroke-width="5.72" fill="none" />
<path d="M567,487 Q600,491 601,503 L599,514" stroke-width="2.42" fill="none" stroke="#fff"/>
<path d="M436.5,520 L436.5,537.075 A14.5,3.625 0 0 0 465.5,537.075 L465.5,520 Z" stroke-width="2.09" fill="#fff" />
<ellipse cx="451.0" cy="520.0" rx="14.5" ry="3.625" transform="rotate(0 451.0 520.0)" stroke-width="1.98" fill="#fff" />
<path d="M438.965,524.225 L438.965,533.975 Q442.01,535.1750000000001 445.055,533.975 L445.055,524.225" stroke-width="1.87" fill="#fff" />
<polygon points="439.8,524.2 444.3,524.2 444.3,529.1 439.8,529.1" stroke-width="0.3" fill="#111" />
<path d="M453.465,524.225 L453.465,533.975 Q457.09,535.1750000000001 460.715,533.975 L460.715,524.225" stroke-width="1.87" fill="#fff" />
<polygon points="454.3,524.2 459.9,524.2 459.9,529.1 454.3,529.1" stroke-width="0.3" fill="#111" />
<path d="M436.5,535.475 A14.5,3.625 0 0 0 465.5,535.475" stroke-width="1.54" fill="none" />
<path d="M444.185,519.5 L444.185,511.8 L457.815,511.8 L457.815,519.5 A6.8149999999999995,2.3852499999999996 0 0 1 444.185,519.5 Z" stroke-width="1.87" fill="#fff" />
<ellipse cx="451.0" cy="511.8" rx="6.8149999999999995" ry="2.4534" transform="rotate(0 451.0 511.8)" stroke-width="2.42" fill="#fff" />
<ellipse cx="451.0" cy="511.8" rx="3.06675" ry="1.0904" transform="rotate(0 451.0 511.8)" stroke-width="0.6" fill="#999" stroke="#999"/>
<path d="M444.185,514.8 A6.8149999999999995,2.4534 0 0 0 457.815,514.8" stroke-width="1.21" fill="none" />
<path d="M569.3,368.5 L569.3,385.4 A15.2,3.8 0 0 0 599.7,385.4 L599.7,368.5 Z" stroke-width="2.09" fill="#fff" />
<ellipse cx="584.5" cy="368.5" rx="15.2" ry="3.8" transform="rotate(0 584.5 368.5)" stroke-width="1.98" fill="#fff" />
<path d="M571.884,372.90000000000003 L571.884,382.65 Q575.076,383.84999999999997 578.268,382.65 L578.268,372.90000000000003" stroke-width="1.87" fill="#fff" />
<polygon points="572.7,372.9 577.5,372.9 577.5,377.8 572.7,377.8" stroke-width="0.3" fill="#111" />
<path d="M587.0840000000001,372.90000000000003 L587.0840000000001,382.65 Q590.884,383.84999999999997 594.684,382.65 L594.684,372.90000000000003" stroke-width="1.87" fill="#fff" />
<polygon points="587.9,372.9 593.9,372.9 593.9,377.8 587.9,377.8" stroke-width="0.3" fill="#111" />
<path d="M569.3,384.15 A15.2,3.8 0 0 0 599.7,384.15" stroke-width="1.54" fill="none" />
<path d="M577.356,368.0 L577.356,360.3 L591.644,360.3 L591.644,368.0 A7.143999999999999,2.5003999999999995 0 0 1 577.356,368.0 Z" stroke-width="1.87" fill="#fff" />
<ellipse cx="584.5" cy="360.3" rx="7.143999999999999" ry="2.5718399999999995" transform="rotate(0 584.5 360.3)" stroke-width="2.42" fill="#fff" />
<ellipse cx="584.5" cy="360.3" rx="3.2148" ry="1.1430399999999998" transform="rotate(0 584.5 360.3)" stroke-width="0.6" fill="#999" stroke="#999"/>
<path d="M577.356,363.3 A7.143999999999999,2.5718399999999995 0 0 0 591.644,363.3" stroke-width="1.21" fill="none" />
<polyline points="580.2,389.0 580.2,398.3 588.3,398.3 588.3,389.0" stroke-width="1.76" fill="#fff" />
<polygon points="67.9,679.3 104.3,695.7 104.3,729.3 88.6,722.9 88.6,700.0 67.9,691.4" stroke-width="1.76" fill="#fff" />
<line x1="67.9" y1="691.4" x2="88.6" y2="700.0" stroke-width="1.76" />
<polygon points="296.2,783.4 333.3,802.1 333.3,813.5 313.6,804.7 313.6,826.3 296.2,817.2" stroke-width="1.76" fill="#fff" />
<polygon points="333.3,802.1 392.0,785.2 392.0,796.5 333.3,813.5" stroke-width="1.76" fill="#fff" />
<polyline points="313.6,826.3 371.8,808.0 371.8,803.0" stroke-width="1.65" fill="none" />
<polygon points="110.7,699.6 167.5,725.4 167.5,757.6 110.7,731.8" stroke-width="1.76" fill="#fff" />
<polygon points="172.4,727.6 229.4,753.6 229.4,786.6 172.4,760.6" stroke-width="1.76" fill="#fff" />
<polygon points="234.3,756.4 291.1,782.1 291.1,815.7 234.3,790.0" stroke-width="1.76" fill="#fff" />
<polygon points="167.5,725.4 172.4,727.6 172.4,760.6 167.5,758.4" stroke-width="1.1" fill="#888" />
<polygon points="229.4,753.6 234.3,756.4 234.3,789.9 229.4,787.1" stroke-width="1.1" fill="#888" />
<polygon points="291.1,782.1 296.2,783.4 296.2,816.9 291.1,815.6" stroke-width="1.1" fill="#888" />
<polygon points="105.9,696.4 110.2,698.2 110.2,731.2 105.9,730.2" stroke-width="1.1" fill="#ccc" />
<polygon points="67.9,679.3 125.7,661.1 162.9,678.6 166.0,677.5 392.0,785.2 333.3,802.1 312.9,793.1 104.3,695.7" stroke-width="1.76" fill="#fff" />
<line x1="163.0" y1="679.0" x2="166.0" y2="677.5" stroke-width="1.32" />
<line x1="229.0" y1="710.0" x2="232.0" y2="708.5" stroke-width="1.32" />
<line x1="291.0" y1="739.5" x2="294.0" y2="738.0" stroke-width="1.32" />
<line x1="353.0" y1="768.5" x2="356.0" y2="767.0" stroke-width="1.32" />
<ellipse cx="97.9" cy="711.4" rx="5.7" ry="9.2" transform="rotate(-10 97.9 711.4)" stroke-width="2.2" fill="#fff" />
<ellipse cx="98.8" cy="711.2" rx="3.9" ry="7.0" transform="rotate(-10 98.8 711.2)" stroke-width="1.21" fill="#fff" />
<ellipse cx="118.8" cy="721.1" rx="5.7" ry="9.2" transform="rotate(-10 118.8 721.1)" stroke-width="2.2" fill="#fff" />
<ellipse cx="119.7" cy="720.9" rx="3.9" ry="7.0" transform="rotate(-10 119.7 720.9)" stroke-width="1.21" fill="#fff" />
<ellipse cx="139.1" cy="730.7" rx="5.7" ry="9.2" transform="rotate(-10 139.1 730.7)" stroke-width="2.2" fill="#fff" />
<ellipse cx="140.0" cy="730.5" rx="3.9" ry="7.0" transform="rotate(-10 140.0 730.5)" stroke-width="1.21" fill="#fff" />
<ellipse cx="159.5" cy="739.8" rx="5.7" ry="9.2" transform="rotate(-10 159.5 739.8)" stroke-width="2.2" fill="#fff" />
<ellipse cx="160.4" cy="739.6" rx="3.9" ry="7.0" transform="rotate(-10 160.4 739.6)" stroke-width="1.21" fill="#fff" />
<ellipse cx="180.7" cy="749.7" rx="5.7" ry="9.2" transform="rotate(-10 180.7 749.7)" stroke-width="2.2" fill="#fff" />
<ellipse cx="181.6" cy="749.5" rx="3.9" ry="7.0" transform="rotate(-10 181.6 749.5)" stroke-width="1.21" fill="#fff" />
<ellipse cx="201.0" cy="759.2" rx="5.7" ry="9.2" transform="rotate(-10 201.0 759.2)" stroke-width="2.2" fill="#fff" />
<ellipse cx="201.9" cy="759.0" rx="3.9" ry="7.0" transform="rotate(-10 201.9 759.0)" stroke-width="1.21" fill="#fff" />
<ellipse cx="221.0" cy="768.3" rx="5.7" ry="9.2" transform="rotate(-10 221.0 768.3)" stroke-width="2.2" fill="#fff" />
<ellipse cx="221.9" cy="768.1" rx="3.9" ry="7.0" transform="rotate(-10 221.9 768.1)" stroke-width="1.21" fill="#fff" />
<ellipse cx="242.6" cy="778.4" rx="5.7" ry="9.2" transform="rotate(-10 242.6 778.4)" stroke-width="2.2" fill="#fff" />
<ellipse cx="243.5" cy="778.2" rx="3.9" ry="7.0" transform="rotate(-10 243.5 778.2)" stroke-width="1.21" fill="#fff" />
<ellipse cx="263.2" cy="787.5" rx="5.7" ry="9.2" transform="rotate(-10 263.2 787.5)" stroke-width="2.2" fill="#fff" />
<ellipse cx="264.1" cy="787.3" rx="3.9" ry="7.0" transform="rotate(-10 264.1 787.3)" stroke-width="1.21" fill="#fff" />
<ellipse cx="283.0" cy="797.1" rx="5.7" ry="9.2" transform="rotate(-10 283.0 797.1)" stroke-width="2.2" fill="#fff" />
<ellipse cx="283.9" cy="796.9" rx="3.9" ry="7.0" transform="rotate(-10 283.9 796.9)" stroke-width="1.21" fill="#fff" />
<ellipse cx="303.9" cy="806.8" rx="5.7" ry="9.2" transform="rotate(-10 303.9 806.8)" stroke-width="2.2" fill="#fff" />
<ellipse cx="304.8" cy="806.6" rx="3.9" ry="7.0" transform="rotate(-10 304.8 806.6)" stroke-width="1.21" fill="#fff" />
<ellipse cx="119.2" cy="694.2" rx="7.3" ry="3.1" transform="rotate(4 119.2 694.2)" stroke-width="2.2" fill="#777" />
<ellipse cx="119.2" cy="694.8" rx="4.4" ry="1.3" transform="rotate(4 119.2 694.8)" stroke-width="0.6" fill="#b0b0b0" stroke="#b0b0b0"/>
<ellipse cx="139.8" cy="703.8" rx="7.3" ry="3.1" transform="rotate(4 139.8 703.8)" stroke-width="2.2" fill="#777" />
<ellipse cx="139.8" cy="704.4" rx="4.4" ry="1.3" transform="rotate(4 139.8 704.4)" stroke-width="0.6" fill="#b0b0b0" stroke="#b0b0b0"/>
<ellipse cx="160.4" cy="713.4" rx="7.3" ry="3.1" transform="rotate(4 160.4 713.4)" stroke-width="2.2" fill="#777" />
<ellipse cx="160.4" cy="714.0" rx="4.4" ry="1.3" transform="rotate(4 160.4 714.0)" stroke-width="0.6" fill="#b0b0b0" stroke="#b0b0b0"/>
<ellipse cx="181.0" cy="723.0" rx="7.3" ry="3.1" transform="rotate(4 181.0 723.0)" stroke-width="2.2" fill="#777" />
<ellipse cx="181.0" cy="723.6" rx="4.4" ry="1.3" transform="rotate(4 181.0 723.6)" stroke-width="0.6" fill="#b0b0b0" stroke="#b0b0b0"/>
<ellipse cx="201.6" cy="732.6" rx="7.3" ry="3.1" transform="rotate(4 201.6 732.6)" stroke-width="2.2" fill="#777" />
<ellipse cx="201.6" cy="733.2" rx="4.4" ry="1.3" transform="rotate(4 201.6 733.2)" stroke-width="0.6" fill="#b0b0b0" stroke="#b0b0b0"/>
<ellipse cx="222.2" cy="742.2" rx="7.3" ry="3.1" transform="rotate(4 222.2 742.2)" stroke-width="2.2" fill="#777" />
<ellipse cx="222.2" cy="742.8" rx="4.4" ry="1.3" transform="rotate(4 222.2 742.8)" stroke-width="0.6" fill="#b0b0b0" stroke="#b0b0b0"/>
<ellipse cx="242.8" cy="751.8" rx="7.3" ry="3.1" transform="rotate(4 242.8 751.8)" stroke-width="2.2" fill="#777" />
<ellipse cx="242.8" cy="752.4" rx="4.4" ry="1.3" transform="rotate(4 242.8 752.4)" stroke-width="0.6" fill="#b0b0b0" stroke="#b0b0b0"/>
<ellipse cx="263.4" cy="761.4" rx="7.3" ry="3.1" transform="rotate(4 263.4 761.4)" stroke-width="2.2" fill="#777" />
<ellipse cx="263.4" cy="762.0" rx="4.4" ry="1.3" transform="rotate(4 263.4 762.0)" stroke-width="0.6" fill="#b0b0b0" stroke="#b0b0b0"/>
<ellipse cx="284.0" cy="771.0" rx="7.3" ry="3.1" transform="rotate(4 284.0 771.0)" stroke-width="2.2" fill="#777" />
<ellipse cx="284.0" cy="771.6" rx="4.4" ry="1.3" transform="rotate(4 284.0 771.6)" stroke-width="0.6" fill="#b0b0b0" stroke="#b0b0b0"/>
<ellipse cx="304.6" cy="780.6" rx="7.3" ry="3.1" transform="rotate(4 304.6 780.6)" stroke-width="2.2" fill="#777" />
<ellipse cx="304.6" cy="781.2" rx="4.4" ry="1.3" transform="rotate(4 304.6 781.2)" stroke-width="0.6" fill="#b0b0b0" stroke="#b0b0b0"/>
<ellipse cx="155.0" cy="683.4" rx="7.3" ry="3.1" transform="rotate(4 155.0 683.4)" stroke-width="2.2" fill="#777" />
<ellipse cx="155.0" cy="684.0" rx="4.4" ry="1.3" transform="rotate(4 155.0 684.0)" stroke-width="0.6" fill="#b0b0b0" stroke="#b0b0b0"/>
<ellipse cx="175.6" cy="693.0" rx="7.3" ry="3.1" transform="rotate(4 175.6 693.0)" stroke-width="2.2" fill="#777" />
<ellipse cx="175.6" cy="693.6" rx="4.4" ry="1.3" transform="rotate(4 175.6 693.6)" stroke-width="0.6" fill="#b0b0b0" stroke="#b0b0b0"/>
<ellipse cx="196.2" cy="702.6" rx="7.3" ry="3.1" transform="rotate(4 196.2 702.6)" stroke-width="2.2" fill="#777" />
<ellipse cx="196.2" cy="703.2" rx="4.4" ry="1.3" transform="rotate(4 196.2 703.2)" stroke-width="0.6" fill="#b0b0b0" stroke="#b0b0b0"/>
<ellipse cx="216.8" cy="712.2" rx="7.3" ry="3.1" transform="rotate(4 216.8 712.2)" stroke-width="2.2" fill="#777" />
<ellipse cx="216.8" cy="712.8" rx="4.4" ry="1.3" transform="rotate(4 216.8 712.8)" stroke-width="0.6" fill="#b0b0b0" stroke="#b0b0b0"/>
<ellipse cx="237.4" cy="721.8" rx="7.3" ry="3.1" transform="rotate(4 237.4 721.8)" stroke-width="2.2" fill="#777" />
<ellipse cx="237.4" cy="722.4" rx="4.4" ry="1.3" transform="rotate(4 237.4 722.4)" stroke-width="0.6" fill="#b0b0b0" stroke="#b0b0b0"/>
<ellipse cx="258.0" cy="731.4" rx="7.3" ry="3.1" transform="rotate(4 258.0 731.4)" stroke-width="2.2" fill="#777" />
<ellipse cx="258.0" cy="732.0" rx="4.4" ry="1.3" transform="rotate(4 258.0 732.0)" stroke-width="0.6" fill="#b0b0b0" stroke="#b0b0b0"/>
<ellipse cx="278.6" cy="741.0" rx="7.3" ry="3.1" transform="rotate(4 278.6 741.0)" stroke-width="2.2" fill="#777" />
<ellipse cx="278.6" cy="741.6" rx="4.4" ry="1.3" transform="rotate(4 278.6 741.6)" stroke-width="0.6" fill="#b0b0b0" stroke="#b0b0b0"/>
<ellipse cx="299.2" cy="750.6" rx="7.3" ry="3.1" transform="rotate(4 299.2 750.6)" stroke-width="2.2" fill="#777" />
<ellipse cx="299.2" cy="751.2" rx="4.4" ry="1.3" transform="rotate(4 299.2 751.2)" stroke-width="0.6" fill="#b0b0b0" stroke="#b0b0b0"/>
<ellipse cx="319.8" cy="760.2" rx="7.3" ry="3.1" transform="rotate(4 319.8 760.2)" stroke-width="2.2" fill="#777" />
<ellipse cx="319.8" cy="760.8" rx="4.4" ry="1.3" transform="rotate(4 319.8 760.8)" stroke-width="0.6" fill="#b0b0b0" stroke="#b0b0b0"/>
<ellipse cx="340.4" cy="769.8" rx="7.3" ry="3.1" transform="rotate(4 340.4 769.8)" stroke-width="2.2" fill="#777" />
<ellipse cx="340.4" cy="770.4" rx="4.4" ry="1.3" transform="rotate(4 340.4 770.4)" stroke-width="0.6" fill="#b0b0b0" stroke="#b0b0b0"/>
<ellipse cx="230.0" cy="731.0" rx="4.5" ry="2.2" transform="rotate(4 230.0 731.0)" stroke-width="1.21" fill="#fff" />
<rect x="83.5" y="670.1" width="47" height="9" rx="4.5" transform="rotate(-18 107.0 674.6)" stroke-width="1.6" fill="#fff"/>
<rect x="85.5" y="671.9" width="43" height="5.4" rx="2.7" transform="rotate(-18 107.0 674.6)" stroke-width="1.1" fill="#fff"/>
<rect x="332.5" y="784.8" width="45" height="8.5" rx="4.25" transform="rotate(-14 355.0 789.0)" stroke-width="1.6" fill="#fff"/>
<rect x="334.5" y="786.5" width="41" height="4.9" rx="2.45" transform="rotate(-14 355.0 789.0)" stroke-width="1.1" fill="#fff"/>
<path d="M104.5,688.5 Q102,686 108,683.5 L146,674 Q150,674 149,677 L147.5,679.5" stroke-width="1.32" fill="none" />
<polygon points="110.5,682.8 145.6,674.2 147.0,678.6 111.5,687.4" stroke-width="1.43" fill="#111" />
<path d="M115,683.5 l4,-1 M122,681.7 l5,-1.2 M130,679.8 l5,-1.2 M138,677.8 l4,-1" stroke-width="0.8" fill="none" stroke="#777"/>
<ellipse cx="112.5" cy="687.5" rx="3.4" ry="2.4" transform="rotate(0 112.5 687.5)" stroke-width="1.1" fill="#000" />
<path d="M441,732 L454,741 L615,819 L624,819.5 L767,772.5 L780,766 L780,700 L441,700 Z" stroke-width="0" fill="#fff" stroke="none"/>
<path d="M446,733 L454,741 L615,819 L624,819.5 L767,772.5 L772,766" stroke-width="1.98" fill="none" />
<path d="M452,723 Q442,726 442,730 L442,734 Q442,736 445,737 L612,811.5 L626,811.5 L778,767 Q781,766 781,764 L781,760.5 Q781,755.5 773,752.5" stroke-width="1.76" fill="#fff" />
<path d="M444,731.5 L612,805 L626,805 L779,760.0" stroke-width="1.1" fill="none" />
<path d="M449,708.5 Q439,711.5 439,715.5 L439,720.5 Q439,722.5 442,723.5 L610,797.5 L629,797.5 L780,754 Q783,753 783,751 L783,745 Q783,740 775,737" stroke-width="1.76" fill="#fff" />
<path d="M441,717.0 L610,791 L629,791 L781,744.5" stroke-width="1.1" fill="none" />
<polygon points="650.0,778.0 755.0,746.0 755.0,771.0 650.0,801.0" stroke-width="0.1" fill="#fff" stroke="#fff"/>
<line x1="654.0" y1="796.6" x2="746.8" y2="770.2" stroke-width="1.65" />
<line x1="654.0" y1="800.5" x2="746.8" y2="774.0" stroke-width="1.21" />
<polyline points="650.0,776.0 650.0,801.0" stroke-width="1.43" fill="none" />
<polyline points="654.0,776.0 654.0,801.0" stroke-width="1.43" fill="none" />
<polyline points="746.8,748.0 746.8,772.0" stroke-width="1.43" fill="none" />
<polyline points="752.0,746.5 752.0,770.0" stroke-width="1.21" fill="none" />
<polyline points="755.3,745.0 755.3,769.0" stroke-width="1.43" fill="none" />
<line x1="616.4" y1="784.0" x2="616.4" y2="792.0" stroke-width="1.32" />
<line x1="623.6" y1="784.0" x2="623.6" y2="792.0" stroke-width="1.32" />
<line x1="616.4" y1="799.0" x2="616.4" y2="806.0" stroke-width="1.32" />
<line x1="623.6" y1="799.0" x2="623.6" y2="806.0" stroke-width="1.32" />
<line x1="454.0" y1="706.0" x2="454.0" y2="713.0" stroke-width="1.32" />
<line x1="458.0" y1="706.0" x2="458.0" y2="713.0" stroke-width="1.32" />
<line x1="451.0" y1="721.0" x2="451.0" y2="727.0" stroke-width="1.32" />
<path d="M448.9,692 Q438.9,695 438.9,699 L438.9,704 Q438.9,706 441.9,707 L610.5,783 L629.5,783 L780,737 Q783,736 783,734 L783,728.5 Q783,723.5 775,720.5" stroke-width="1.76" fill="#fff" />
<path d="M440.9,700.5 L610.5,779.3 L629.5,779.3 L781,728.0" stroke-width="1.1" fill="none" />
<polygon points="446.0,700.5 608.0,777.5 608.0,781.5 446.0,704.5" stroke-width="0.4" fill="#999" stroke="#999"/>
<polygon points="632.0,778.0 778.0,730.5 778.0,734.5 632.0,782.0" stroke-width="0.4" fill="#ccc" stroke="#ccc"/>
<line x1="446.0" y1="700.5" x2="447.3" y2="704.5" stroke-width="0.9" />
<line x1="448.7" y1="701.8" x2="450.0" y2="705.8" stroke-width="0.9" />
<line x1="451.4" y1="703.1" x2="452.7" y2="707.1" stroke-width="0.9" />
<line x1="454.1" y1="704.4" x2="455.4" y2="708.4" stroke-width="0.9" />
<line x1="456.8" y1="705.6" x2="458.1" y2="709.6" stroke-width="0.9" />
<line x1="459.5" y1="706.9" x2="460.8" y2="710.9" stroke-width="0.9" />
<line x1="462.2" y1="708.2" x2="463.5" y2="712.2" stroke-width="0.9" />
<line x1="464.9" y1="709.5" x2="466.2" y2="713.5" stroke-width="0.9" />
<line x1="467.6" y1="710.8" x2="468.9" y2="714.8" stroke-width="0.9" />
<line x1="470.3" y1="712.0" x2="471.6" y2="716.0" stroke-width="0.9" />
<line x1="473.0" y1="713.3" x2="474.3" y2="717.3" stroke-width="0.9" />
<line x1="475.7" y1="714.6" x2="477.0" y2="718.6" stroke-width="0.9" />
<line x1="478.4" y1="715.9" x2="479.7" y2="719.9" stroke-width="0.9" />
<line x1="481.1" y1="717.2" x2="482.4" y2="721.2" stroke-width="0.9" />
<line x1="483.8" y1="718.5" x2="485.1" y2="722.5" stroke-width="0.9" />
<line x1="486.5" y1="719.8" x2="487.8" y2="723.8" stroke-width="0.9" />
<line x1="489.2" y1="721.0" x2="490.5" y2="725.0" stroke-width="0.9" />
<line x1="491.9" y1="722.3" x2="493.2" y2="726.3" stroke-width="0.9" />
<line x1="494.6" y1="723.6" x2="495.9" y2="727.6" stroke-width="0.9" />
<line x1="497.3" y1="724.9" x2="498.6" y2="728.9" stroke-width="0.9" />
<line x1="500.0" y1="726.2" x2="501.3" y2="730.2" stroke-width="0.9" />
<line x1="502.7" y1="727.5" x2="504.0" y2="731.5" stroke-width="0.9" />
<line x1="505.4" y1="728.7" x2="506.7" y2="732.7" stroke-width="0.9" />
<line x1="508.1" y1="730.0" x2="509.4" y2="734.0" stroke-width="0.9" />
<line x1="510.8" y1="731.3" x2="512.1" y2="735.3" stroke-width="0.9" />
<line x1="513.5" y1="732.6" x2="514.8" y2="736.6" stroke-width="0.9" />
<line x1="516.2" y1="733.9" x2="517.5" y2="737.9" stroke-width="0.9" />
<line x1="518.9" y1="735.1" x2="520.2" y2="739.1" stroke-width="0.9" />
<line x1="521.6" y1="736.4" x2="522.9" y2="740.4" stroke-width="0.9" />
<line x1="524.3" y1="737.7" x2="525.6" y2="741.7" stroke-width="0.9" />
<line x1="527.0" y1="739.0" x2="528.3" y2="743.0" stroke-width="0.9" />
<line x1="529.7" y1="740.3" x2="531.0" y2="744.3" stroke-width="0.9" />
<line x1="532.4" y1="741.6" x2="533.7" y2="745.6" stroke-width="0.9" />
<line x1="535.1" y1="742.9" x2="536.4" y2="746.9" stroke-width="0.9" />
<line x1="537.8" y1="744.1" x2="539.1" y2="748.1" stroke-width="0.9" />
<line x1="540.5" y1="745.4" x2="541.8" y2="749.4" stroke-width="0.9" />
<line x1="543.2" y1="746.7" x2="544.5" y2="750.7" stroke-width="0.9" />
<line x1="545.9" y1="748.0" x2="547.2" y2="752.0" stroke-width="0.9" />
<line x1="548.6" y1="749.3" x2="549.9" y2="753.3" stroke-width="0.9" />
<line x1="551.3" y1="750.5" x2="552.6" y2="754.5" stroke-width="0.9" />
<line x1="554.0" y1="751.8" x2="555.3" y2="755.8" stroke-width="0.9" />
<line x1="556.7" y1="753.1" x2="558.0" y2="757.1" stroke-width="0.9" />
<line x1="559.4" y1="754.4" x2="560.7" y2="758.4" stroke-width="0.9" />
<line x1="562.1" y1="755.7" x2="563.4" y2="759.7" stroke-width="0.9" />
<line x1="564.8" y1="757.0" x2="566.1" y2="761.0" stroke-width="0.9" />
<line x1="567.5" y1="758.2" x2="568.8" y2="762.2" stroke-width="0.9" />
<line x1="570.2" y1="759.5" x2="571.5" y2="763.5" stroke-width="0.9" />
<line x1="572.9" y1="760.8" x2="574.2" y2="764.8" stroke-width="0.9" />
<line x1="575.6" y1="762.1" x2="576.9" y2="766.1" stroke-width="0.9" />
<line x1="578.3" y1="763.4" x2="579.6" y2="767.4" stroke-width="0.9" />
<line x1="581.0" y1="764.7" x2="582.3" y2="768.7" stroke-width="0.9" />
<line x1="583.7" y1="766.0" x2="585.0" y2="770.0" stroke-width="0.9" />
<line x1="586.4" y1="767.2" x2="587.7" y2="771.2" stroke-width="0.9" />
<line x1="589.1" y1="768.5" x2="590.4" y2="772.5" stroke-width="0.9" />
<line x1="591.8" y1="769.8" x2="593.1" y2="773.8" stroke-width="0.9" />
<line x1="594.5" y1="771.1" x2="595.8" y2="775.1" stroke-width="0.9" />
<line x1="597.2" y1="772.4" x2="598.5" y2="776.4" stroke-width="0.9" />
<line x1="599.9" y1="773.6" x2="601.2" y2="777.6" stroke-width="0.9" />
<line x1="602.6" y1="774.9" x2="603.9" y2="778.9" stroke-width="0.9" />
<line x1="605.3" y1="776.2" x2="606.6" y2="780.2" stroke-width="0.9" />
<line x1="632.0" y1="778.0" x2="633.2" y2="782.0" stroke-width="0.6" />
<line x1="634.8" y1="777.1" x2="636.0" y2="781.1" stroke-width="0.6" />
<line x1="637.6" y1="776.2" x2="638.8" y2="780.2" stroke-width="0.6" />
<line x1="640.4" y1="775.3" x2="641.6" y2="779.3" stroke-width="0.6" />
<line x1="643.2" y1="774.3" x2="644.4" y2="778.3" stroke-width="0.6" />
<line x1="646.0" y1="773.4" x2="647.2" y2="777.4" stroke-width="0.6" />
<line x1="648.8" y1="772.5" x2="650.0" y2="776.5" stroke-width="0.6" />
<line x1="651.7" y1="771.6" x2="652.9" y2="775.6" stroke-width="0.6" />
<line x1="654.5" y1="770.7" x2="655.7" y2="774.7" stroke-width="0.6" />
<line x1="657.3" y1="769.8" x2="658.5" y2="773.8" stroke-width="0.6" />
<line x1="660.1" y1="768.9" x2="661.3" y2="772.9" stroke-width="0.6" />
<line x1="662.9" y1="768.0" x2="664.1" y2="772.0" stroke-width="0.6" />
<line x1="665.7" y1="767.0" x2="666.9" y2="771.0" stroke-width="0.6" />
<line x1="668.5" y1="766.1" x2="669.7" y2="770.1" stroke-width="0.6" />
<line x1="671.3" y1="765.2" x2="672.5" y2="769.2" stroke-width="0.6" />
<line x1="674.1" y1="764.3" x2="675.3" y2="768.3" stroke-width="0.6" />
<line x1="676.9" y1="763.4" x2="678.1" y2="767.4" stroke-width="0.6" />
<line x1="679.7" y1="762.5" x2="680.9" y2="766.5" stroke-width="0.6" />
<line x1="682.5" y1="761.6" x2="683.7" y2="765.6" stroke-width="0.6" />
<line x1="685.3" y1="760.6" x2="686.5" y2="764.6" stroke-width="0.6" />
<line x1="688.2" y1="759.7" x2="689.4" y2="763.7" stroke-width="0.6" />
<line x1="691.0" y1="758.8" x2="692.2" y2="762.8" stroke-width="0.6" />
<line x1="693.8" y1="757.9" x2="695.0" y2="761.9" stroke-width="0.6" />
<line x1="696.6" y1="757.0" x2="697.8" y2="761.0" stroke-width="0.6" />
<line x1="699.4" y1="756.1" x2="700.6" y2="760.1" stroke-width="0.6" />
<line x1="702.2" y1="755.2" x2="703.4" y2="759.2" stroke-width="0.6" />
<line x1="705.0" y1="754.2" x2="706.2" y2="758.2" stroke-width="0.6" />
<line x1="707.8" y1="753.3" x2="709.0" y2="757.3" stroke-width="0.6" />
<line x1="710.6" y1="752.4" x2="711.8" y2="756.4" stroke-width="0.6" />
<line x1="713.4" y1="751.5" x2="714.6" y2="755.5" stroke-width="0.6" />
<line x1="716.2" y1="750.6" x2="717.4" y2="754.6" stroke-width="0.6" />
<line x1="719.0" y1="749.7" x2="720.2" y2="753.7" stroke-width="0.6" />
<line x1="721.8" y1="748.8" x2="723.0" y2="752.8" stroke-width="0.6" />
<line x1="724.7" y1="747.9" x2="725.9" y2="751.9" stroke-width="0.6" />
<line x1="727.5" y1="746.9" x2="728.7" y2="750.9" stroke-width="0.6" />
<line x1="730.3" y1="746.0" x2="731.5" y2="750.0" stroke-width="0.6" />
<line x1="733.1" y1="745.1" x2="734.3" y2="749.1" stroke-width="0.6" />
<line x1="735.9" y1="744.2" x2="737.1" y2="748.2" stroke-width="0.6" />
<line x1="738.7" y1="743.3" x2="739.9" y2="747.3" stroke-width="0.6" />
<line x1="741.5" y1="742.4" x2="742.7" y2="746.4" stroke-width="0.6" />
<line x1="744.3" y1="741.5" x2="745.5" y2="745.5" stroke-width="0.6" />
<line x1="747.1" y1="740.5" x2="748.3" y2="744.5" stroke-width="0.6" />
<line x1="749.9" y1="739.6" x2="751.1" y2="743.6" stroke-width="0.6" />
<line x1="752.7" y1="738.7" x2="753.9" y2="742.7" stroke-width="0.6" />
<line x1="755.5" y1="737.8" x2="756.7" y2="741.8" stroke-width="0.6" />
<line x1="758.3" y1="736.9" x2="759.5" y2="740.9" stroke-width="0.6" />
<line x1="761.2" y1="736.0" x2="762.4" y2="740.0" stroke-width="0.6" />
<line x1="764.0" y1="735.1" x2="765.2" y2="739.1" stroke-width="0.6" />
<line x1="766.8" y1="734.2" x2="768.0" y2="738.2" stroke-width="0.6" />
<line x1="769.6" y1="733.2" x2="770.8" y2="737.2" stroke-width="0.6" />
<line x1="772.4" y1="732.3" x2="773.6" y2="736.3" stroke-width="0.6" />
<line x1="775.2" y1="731.4" x2="776.4" y2="735.4" stroke-width="0.6" />
<path d="M450.8,688.5 L450.8,698.5 L617.6,775 L626,775 L774.2,729.5 L774.2,721.5 Z" stroke-width="1.76" fill="#fff" />
<path d="M450.8,690.0 Q450.8,688.0 453.8,687.0 L598.5,643.0 Q602.5,642.0 606.5,644.0 L772.2,720.0 Q774.2,721.5 771.2,723.0 L626,766.8 Q621.5,767.5 617.6,765.6 Z" stroke-width="2.2" fill="#fff" />
<path d="M465,691.3 L600,651.3 L762.5,723.8 M455.5,690.5 L617,764 M626,764 L769,721" stroke-width="1.32" fill="none" />
<line x1="617.6" y1="766.0" x2="617.6" y2="775.0" stroke-width="1.21" />
<line x1="626.0" y1="767.0" x2="626.0" y2="775.0" stroke-width="1.21" />
<polygon points="458.0,699.0 462.0,696.0 466.0,698.0 466.0,706.0 458.0,707.0" stroke-width="1.32" fill="#fff" />
<polygon points="582.0,760.0 588.0,753.0 596.0,759.0 592.0,769.0 584.0,766.0" stroke-width="1.43" fill="#fff" />
<path d="M589,755 L595,760 L592,767 Z" stroke-width="0.8" fill="#000" />
<ellipse cx="588.0" cy="771.0" rx="2" ry="1.5" transform="rotate(0 588.0 771.0)" stroke-width="0.8" fill="#000" />
<ellipse cx="468.0" cy="711.0" rx="2" ry="1.5" transform="rotate(0 468.0 711.0)" stroke-width="0.8" fill="#000" />
<text x="677" y="789" font-size="7.5" font-family="Liberation Sans, sans-serif" fill="#000" stroke="none" transform="rotate(-17 678 788)" font-weight="bold">SCHUNK</text>
<ellipse cx="711.5" cy="775.0" rx="3.6" ry="3.6" transform="rotate(0 711.5 775.0)" stroke-width="1.43" fill="none" />
<path d="M709,775 L714,775 M711.5,772.5 L711.5,777.5" stroke-width="1.1" fill="none" />
<line x1="591.2" y1="59.2" x2="488.7" y2="120.8" stroke-width="1.54" />
<circle cx="617.8" cy="42.4" r="31.2" fill="#fff" stroke="#3a3a3a" stroke-width="1.3"/>
<text x="602.4" y="59.2" font-size="49" font-family="Liberation Sans, sans-serif" fill="#000" stroke="none">D</text>
<line x1="120.2" y1="326.2" x2="200.0" y2="360.0" stroke-width="1.54" />
<circle cx="91.4" cy="314.6" r="31.2" fill="#fff" stroke="#3a3a3a" stroke-width="1.3"/>
<text x="77.2" y="331.2" font-size="49" font-family="Liberation Sans, sans-serif" fill="#000" stroke="none">B</text>
<line x1="659.5" y1="342.1" x2="592.4" y2="362.9" stroke-width="1.54" />
<circle cx="688.7" cy="332.6" r="31.2" fill="#fff" stroke="#3a3a3a" stroke-width="1.3"/>
<text x="671.2" y="350.2" font-size="49" font-family="Liberation Sans, sans-serif" fill="#000" stroke="none">C</text>
<line x1="103.8" y1="610.0" x2="158.6" y2="698.6" stroke-width="1.54" />
<circle cx="87.5" cy="583.6" r="31.2" fill="#fff" stroke="#3a3a3a" stroke-width="1.3"/>
<text x="72.1" y="601.2" font-size="49" font-family="Liberation Sans, sans-serif" fill="#000" stroke="none">K</text>
<line x1="706.1" y1="627.3" x2="620.0" y2="679.3" stroke-width="1.54" />
<circle cx="732" cy="609.5" r="31.2" fill="#fff" stroke="#3a3a3a" stroke-width="1.3"/>
<text x="721.6" y="625.2" font-size="49" font-family="Liberation Sans, sans-serif" fill="#000" stroke="none">L</text>
</svg>
</body></html>
